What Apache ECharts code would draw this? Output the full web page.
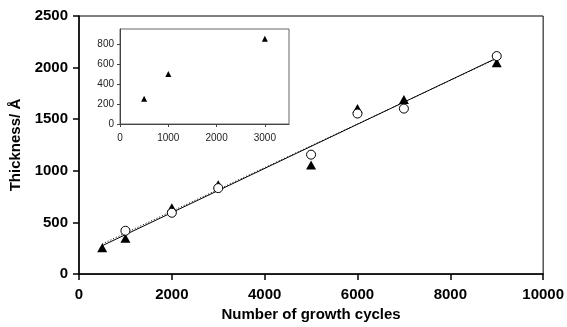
<!DOCTYPE html>
<html>
<head>
<meta charset="utf-8">
<script src="https://cdn.jsdelivr.net/npm/echarts@6/dist/echarts.min.js"></script>
<style>
  html, body { margin: 0; padding: 0; background: #fff; }
  #chart { width: 567px; height: 327px; }
</style>
</head>
<body>
<div id="chart"></div>
<script>
// main plot data
var triCycles = [500, 1000, 2000, 3000, 5000, 6000, 7000, 9000]
var triThickness = [255, 347, 642, 865, 1057, 1603, 1692, 2048]
var circCycles = [1000, 2000, 3000, 5000, 6000, 7000, 9000]
var circThickness = [420, 594, 833, 1157, 1555, 1603, 2112]
// fitted lines, end points
var solidFit = [[500, 275], [9000, 2093]]
var dottedFit = [[500, 292], [9000, 2088]]
// inset data
var insetCycles = [500, 1000, 3000]
var insetThickness = [253, 500, 853]

var font = 'Liberation Sans, Arial, sans-serif'
var plain = v => String(v)

function pairs(xs, ys) {
  return xs.map((x, i) => [x, ys[i]])
}

var chart = echarts.init(document.getElementById('chart'), null, { renderer: 'canvas' })

chart.setOption({
  animation: false,
  backgroundColor: '#fff',
  grid: [
    {
      left: 79, right: 23, top: 16, bottom: 49,
      show: true, borderColor: '#000', borderWidth: 1, backgroundColor: 'transparent'
    },
    {
      left: 120, right: 278, top: 29, bottom: 203,
      show: true, borderColor: '#666', borderWidth: 1, backgroundColor: '#fff', z: 10
    }
  ],
  xAxis: [
    {
      gridIndex: 0,
      type: 'value',
      min: 0,
      max: 10000,
      interval: 2000,
      name: 'Number of growth cycles',
      nameLocation: 'middle',
      nameGap: 31,
      nameTextStyle: { fontFamily: font, fontWeight: 'bold', fontSize: 15, color: '#000' },
      splitLine: { show: false },
      axisLine: { lineStyle: { color: '#000', width: 1.5 } },
      axisTick: { length: 6, lineStyle: { color: '#000', width: 1.5 } },
      axisLabel: { margin: 13, formatter: plain, fontFamily: font, fontWeight: 'bold', fontSize: 15, color: '#000' }
    },
    {
      gridIndex: 1,
      type: 'value',
      min: 0,
      max: 3500,
      interval: 1000,
      z: 11,
      splitLine: { show: false },
      axisLine: { lineStyle: { color: '#444', width: 1 } },
      axisTick: { length: 3, lineStyle: { color: '#444' } },
      axisLabel: { margin: 9, showMaxLabel: false, formatter: plain, fontFamily: font, fontSize: 10, color: '#222' }
    }
  ],
  yAxis: [
    {
      gridIndex: 0,
      type: 'value',
      min: 0,
      max: 2500,
      interval: 500,
      name: 'Thickness/ Å',
      nameLocation: 'middle',
      nameGap: 52,
      nameTextStyle: { fontFamily: font, fontWeight: 'bold', fontSize: 15, color: '#000' },
      splitLine: { show: false },
      axisLine: { lineStyle: { color: '#000', width: 1.5 } },
      axisTick: { length: 6, lineStyle: { color: '#000', width: 1.5 } },
      axisLabel: { margin: 11, formatter: plain, fontFamily: font, fontWeight: 'bold', fontSize: 15, color: '#000' }
    },
    {
      gridIndex: 1,
      type: 'value',
      min: 0,
      max: 950,
      interval: 200,
      z: 11,
      splitLine: { show: false },
      axisLine: { lineStyle: { color: '#444', width: 1 } },
      axisTick: { length: 3, lineStyle: { color: '#444' } },
      axisLabel: { margin: 6, showMaxLabel: false, formatter: plain, fontFamily: font, fontSize: 10, color: '#222' }
    }
  ],
  series: [
    {
      name: 'fit triangles',
      type: 'line',
      xAxisIndex: 0,
      yAxisIndex: 0,
      data: solidFit,
      symbol: 'none',
      lineStyle: { color: '#000', width: 1 },
      z: 2
    },
    {
      name: 'fit circles',
      type: 'line',
      xAxisIndex: 0,
      yAxisIndex: 0,
      data: dottedFit,
      symbol: 'none',
      lineStyle: { color: '#000', width: 1, type: [1, 2] },
      z: 2
    },
    {
      name: 'triangles',
      type: 'scatter',
      xAxisIndex: 0,
      yAxisIndex: 0,
      data: pairs(triCycles, triThickness),
      symbol: 'triangle',
      symbolSize: [10, 9],
      itemStyle: { color: '#000', opacity: 1 },
      z: 3
    },
    {
      name: 'circles',
      type: 'scatter',
      xAxisIndex: 0,
      yAxisIndex: 0,
      data: pairs(circCycles, circThickness),
      symbol: 'circle',
      symbolSize: 9,
      itemStyle: { color: '#fff', borderColor: '#000', borderWidth: 1, opacity: 1 },
      z: 4
    },
    {
      name: 'inset',
      type: 'scatter',
      xAxisIndex: 1,
      yAxisIndex: 1,
      data: pairs(insetCycles, insetThickness),
      symbol: 'triangle',
      symbolSize: [6, 6],
      itemStyle: { color: '#000', opacity: 1 },
      z: 12
    }
  ]
})
</script>
</body>
</html>
